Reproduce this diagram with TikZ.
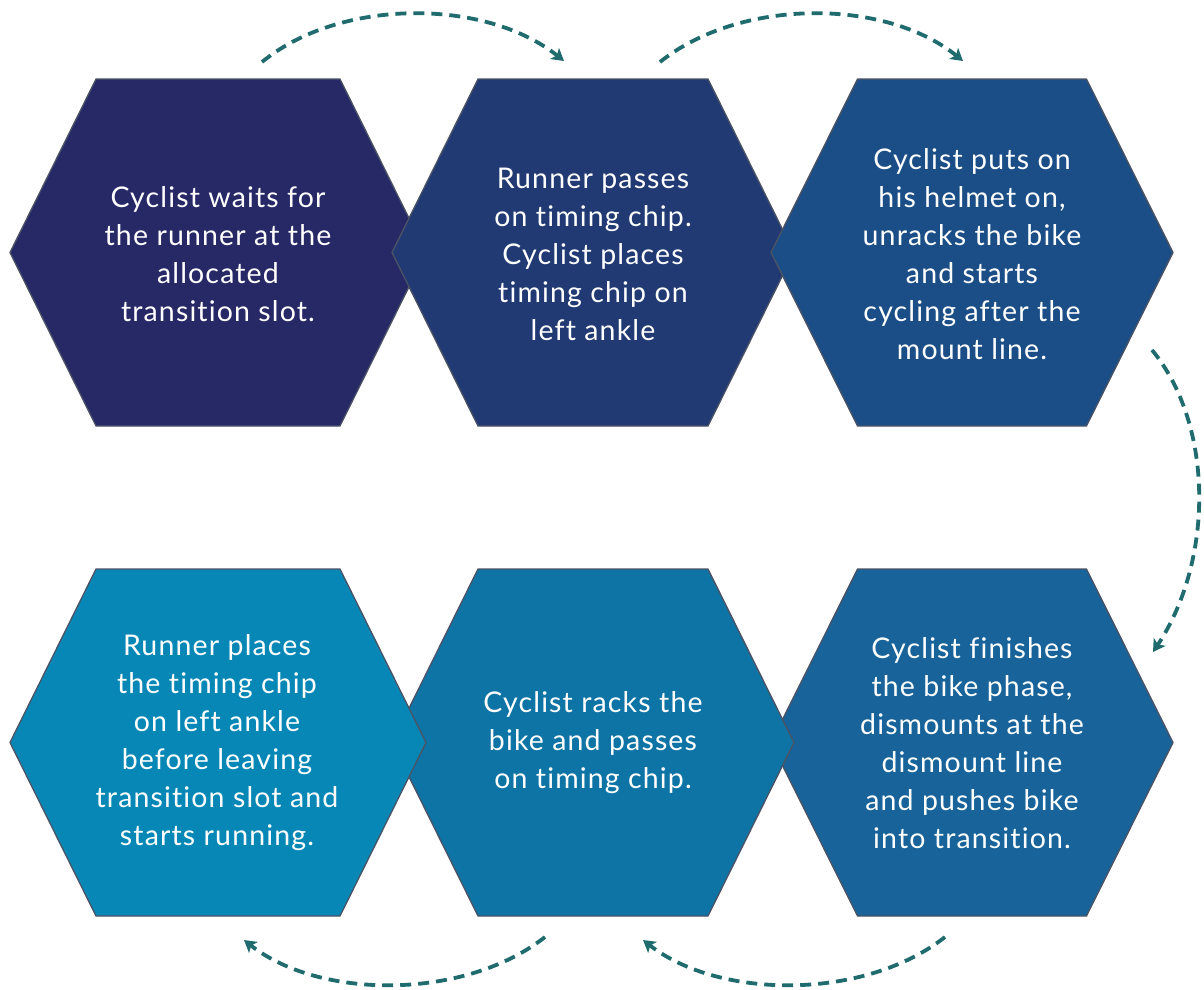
\documentclass[tikz,border=0pt]{standalone}
\usepackage{fontspec}
\setmainfont{Lato}[LetterSpace=4,Ligatures=NoCommon]
\usetikzlibrary{arrows.meta}
\definecolor{hexA}{HTML}{262966}
\definecolor{hexB}{HTML}{213A73}
\definecolor{hexC}{HTML}{1B4E86}
\definecolor{hexD}{HTML}{17639A}
\definecolor{hexE}{HTML}{0E73A5}
\definecolor{hexF}{HTML}{0787B5}
\definecolor{edgegray}{HTML}{4B5365}
\definecolor{arrowteal}{HTML}{1F6B6E}
\tikzset{
  hexpath/.style={draw=edgegray, line width=1.3pt, line join=miter},
  hextext/.style={text=white, align=center, font=\fontsize{28.5}{38}\selectfont, inner sep=0pt},
  cyclearrow/.style={draw=arrowteal, line width=3.8pt, dash pattern=on 11pt off 7pt,
     -{Stealth[length=12pt,width=14pt,inset=3pt]}}
}
\newcommand{\hexshape}[5]{% fill, cx, cy, halfwidth, halftop
  \path[hexpath, fill=#1] (#2-#4,#3) -- (#2-#5,#3-173.5) -- (#2+#5,#3-173.5) -- (#2+#4,#3)
     -- (#2+#5,#3+173.5) -- (#2-#5,#3+173.5) -- cycle;}
\begin{document}
\begin{tikzpicture}[x=1pt,y=-1pt]
\useasboundingbox (0,0) rectangle (1204,989);
% top row: left to right, later ones on top
\hexshape{hexA}{218}{252.5}{208}{122}
\hexshape{hexB}{593}{252.5}{201}{115}
\hexshape{hexC}{972}{252.5}{201}{114.5}
% bottom row: right to left, later ones on top
\hexshape{hexD}{972}{742.5}{201}{114.5}
\hexshape{hexE}{593}{742.5}{201}{115}
\hexshape{hexF}{218}{742.5}{208}{122}

\node[hextext] (h1) at (218,254) {Cyclist waits for\\the runner at the\\allocated\\transition slot.};
\node[hextext] (h2) at (593,254) {Runner passes\\on timing chip.\\Cyclist places\\timing chip on\\left ankle};
\node[hextext] (h3) at (972,254) {Cyclist puts on\\his helmet on,\\unracks the bike\\and starts\\cycling after the\\mount line.};
\node[hextext] (h6) at (972,743) {Cyclist finishes\\the bike phase,\\dismounts at the\\dismount line\\and pushes bike\\into transition.};
\node[hextext] (h5) at (593,743) {Cyclist racks the\\bike and passes\\on timing chip.};
\node[hextext] (h4) at (217,743) {Runner places\\the timing chip\\on left ankle\\before leaving\\transition slot and\\starts running.};

\coordinate (a1s) at (262,62);
\coordinate (a1e) at (564,61);
\coordinate (a2s) at (660,62);
\coordinate (a2e) at (963,61);
\coordinate (a3s) at (1152,350);
\coordinate (a3e) at (1153,652);
\coordinate (a4s) at (945,937);
\coordinate (a4e) at (643,940);
\coordinate (a5s) at (545,937);
\coordinate (a5e) at (244,940);

\draw[cyclearrow] (a1s) .. controls (340,-2) and (485,-2) .. (a1e);
\draw[cyclearrow] (a2s) .. controls (740,-2) and (885,-2) .. (a2e);
\draw[cyclearrow] (a3s) .. controls (1214,425) and (1214,560) .. (a3e);
\draw[cyclearrow] (a4s) .. controls (865,1000) and (720,1000) .. (a4e);
\draw[cyclearrow] (a5s) .. controls (465,1000) and (320,1000) .. (a5e);
\end{tikzpicture}
\end{document}
